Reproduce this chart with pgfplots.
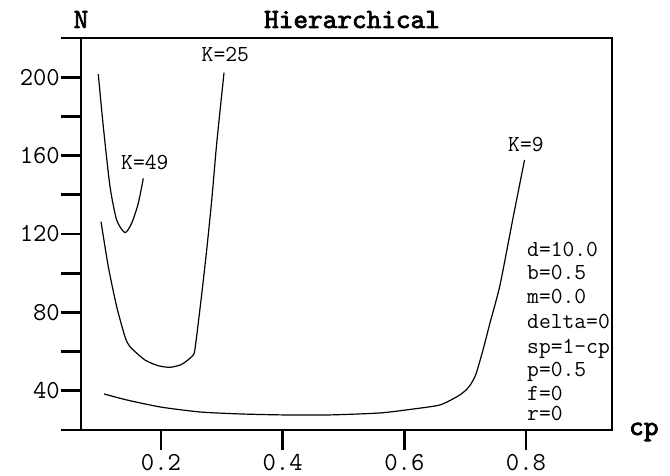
\documentclass[border=0pt]{standalone}
\usepackage{fontspec}
\usepackage{pgfplots}
\pgfplotsset{compat=1.18}
\newfontfamily\boldtt{lmmono10-regular.otf}[FakeBold=2.5]
\begin{document}
\begin{tikzpicture}
\begin{scope}[x=1bp,y=-1bp]
\path[use as bounding box] (0,0) rectangle (670,476);
\end{scope}
\begin{axis}[
  at={(81bp,-430bp)}, anchor=south west,
  scale only axis, width=531bp, height=392bp,
  xmin=0.0685, xmax=0.9414, ymin=20, ymax=220,
  axis line style={line width=2.8bp, black},
  xtick={0.2,0.4,0.6,0.8},
  ytick={40,80,120,160,200},
  minor ytick={20,60,100,140,180,220},
  tick align=outside,
  xtick pos=bottom, ytick pos=left,
  major tick length=20bp, minor tick length=20bp,
  every tick/.style={line width=2.8bp, black},
  minor tick style={line width=2.8bp, black},
  /pgf/number format/assume math mode=true,
  ticklabel style={font=\ttfamily\fontsize{26}{26}\selectfont},
  yticklabel style={anchor=east, inner sep=0pt, xshift=-1bp},
  xticklabel style={anchor=north, inner sep=0pt, yshift=-4.5bp},
  clip=false,
]
\addplot[line width=1.2bp, black, smooth, tension=0.4] coordinates {
(0.0969,201.6) (0.1052,174.7) (0.1162,144.1) (0.1272,127.1) (0.1408,120.7)
(0.1518,125.5) (0.1627,135.7) (0.1709,148.4)};
\addplot[line width=1.2bp, black, smooth, tension=0.4] coordinates {
(0.1014,126.3) (0.1134,103.3) (0.1272,82.9) (0.1408,67.6) (0.1490,62.5)
(0.1737,55.7) (0.1956,52.8) (0.2148,52.0) (0.2340,53.5) (0.2531,58.3)
(0.2571,64.2) (0.2658,86.3) (0.2751,111.8) (0.2834,137.3) (0.2916,166.3) (0.3036,202.3)};
\addplot[line width=1.2bp, black, smooth, tension=0.4] coordinates {
(0.1063,38.4) (0.1441,35.3) (0.2000,31.7) (0.2641,29.2) (0.3299,28.2)
(0.4006,27.7) (0.4778,27.7) (0.5600,28.7) (0.6143,30.7) (0.6587,32.8)
(0.6882,37.3) (0.7014,40.4) (0.7096,43.5) (0.7178,48.6) (0.7293,60.8)
(0.7408,74.6) (0.7573,94.0) (0.7787,128.2) (0.7976,157.8)};
\end{axis}
\begin{scope}[x=1bp,y=-1bp]
\tikzset{ann/.style={inner sep=0pt, anchor=base west, font=\ttfamily\fontsize{23}{23}\selectfont}}
\node[inner sep=0pt, anchor=base, font=\boldtt\fontsize{28}{28}\selectfont] at (352,28) {Hierarchical};
\node[inner sep=0pt, anchor=base, font=\boldtt\fontsize{28}{28}\selectfont] at (81,28) {N};
\node[inner sep=0pt, anchor=base west, font=\boldtt\fontsize{28}{28}\selectfont] at (629,435) {cp};
\node[ann] at (121,170) {K=49};
\node[ann] at (201.5,61.7) {K=25};
\node[ann] at (508,152) {K=9};
\node[ann] at (527,256.7) {d=10.0};
\node[ann] at (527,280) {b=0.5};
\node[ann] at (527,304) {m=0.0};
\node[ann] at (527,328.3) {delta=0};
\node[ann] at (527,353.3) {sp=1-cp};
\node[ann] at (527,376) {p=0.5};
\node[ann] at (527,400) {f=0};
\node[ann] at (527,420.5) {r=0};
\end{scope}
\end{tikzpicture}
\end{document}
